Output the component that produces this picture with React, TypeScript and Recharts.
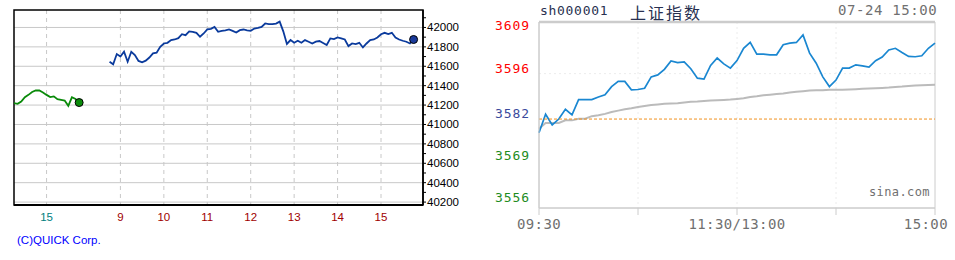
import React from "react";
import { LineChart, Line, XAxis, YAxis, CartesianGrid, ReferenceArea, ReferenceLine } from "recharts";

// 日経225先物 (QUICK) : 5分刻み
const prevDayStart = -45; // 前日 14:15 (15:00 = 0)
const prevDayValues = [
  41220, 41213, 41237, 41282, 41305, 41335, 41350, 41350, 41330, 41305,
  41282, 41290, 41261, 41254, 41247, 41192, 41280, 41262, 41226,
];
const todayStart = 87; // 当日 8:45 (9:00 = 102)
const todayValues = [
  41647, 41620, 41726, 41700, 41750, 41647, 41750, 41716, 41655, 41640,
  41658, 41690, 41733, 41740, 41801, 41835, 41842, 41870, 41876, 41890,
  41931, 41920, 41960, 41955, 41945, 41904, 41938, 41980, 41985, 42005,
  41955, 41965, 41970, 41979, 41965, 41948, 41972, 41979, 41970, 41965,
  41989, 41995, 42006, 42041, 42034, 42034, 42040, 42060, 41960, 41830,
  41870, 41842, 41863, 41842, 41870, 41853, 41835, 41853, 41860, 41840,
  41820, 41887, 41880, 41897, 41887, 41876, 41808, 41835, 41829, 41842,
  41794, 41835, 41870, 41876, 41897, 41930, 41945, 41931, 41945, 41897,
  41876, 41863, 41853, 41835, 41876,
];
const nikkeiGridTicks = [40200, 40400, 40600, 40800, 41000, 41200, 41400, 41600, 41800, 42000];
const nikkeiAllTicks = [
  40200, 40300, 40400, 40500, 40600, 40700, 40800, 40900, 41000, 41100,
  41200, 41300, 41400, 41500, 41600, 41700, 41800, 41900, 42000, 42100,
];
const hourTicks = [0, 102, 162, 222, 282, 342, 402, 462];
const hourLabels = ["15", "9", "10", "11", "12", "13", "14", "15"];

// 上证指数 : 每4分钟
const ssePrice = [
  3577.8, 3583.5, 3580.2, 3582.0, 3585.0, 3583.3, 3588.0, 3588.0, 3588.0, 3588.8,
  3589.5, 3592.0, 3593.6, 3593.6, 3591.0, 3591.1, 3591.5, 3595.0, 3595.6, 3597.3,
  3599.9, 3599.4, 3599.6, 3597.5, 3594.6, 3594.3, 3598.5, 3600.8, 3599.0, 3597.7,
  3600.0, 3603.8, 3605.6, 3602.0, 3602.0, 3601.8, 3601.8, 3604.9, 3605.4, 3605.6,
  3607.9, 3602.3, 3599.2, 3595.0, 3592.0, 3594.0, 3597.7, 3597.7, 3598.7, 3598.4,
  3598.0, 3600.0, 3601.1, 3603.3, 3603.8, 3602.5, 3601.3, 3601.2, 3601.5, 3603.8, 3605.4,
];
const sseAvg = [
  3579.0, 3580.8, 3580.8, 3580.8, 3581.6, 3581.6, 3582.1, 3582.1, 3582.9, 3583.2,
  3583.6, 3584.2, 3584.6, 3585.0, 3585.3, 3585.7, 3586.0, 3586.3, 3586.5, 3586.7,
  3586.8, 3586.9, 3587.1, 3587.3, 3587.4, 3587.6, 3587.7, 3587.8, 3587.9, 3588.0,
  3588.2, 3588.4, 3588.8, 3589.0, 3589.3, 3589.5, 3589.7, 3589.9, 3590.2, 3590.4,
  3590.6, 3590.8, 3590.9, 3590.9, 3591.0, 3591.0, 3591.0, 3591.1, 3591.2, 3591.3,
  3591.4, 3591.5, 3591.6, 3591.7, 3591.9, 3592.0, 3592.2, 3592.3, 3592.4, 3592.5, 3592.6,
];
const ssePrevClose = 3582;
const sseTicks = [3556, 3569, 3582, 3596, 3609];
const sseTimeTicks = [0, 60, 120, 180, 240];
const sseTimeLabels = ["09:30", "", "11:30/13:00", "", "15:00"];

const prevDayData = prevDayValues.map((v, i) => ({ t: prevDayStart + i * 5, v }));
const todayData = todayValues.map((v, i) => ({ t: todayStart + i * 5, v }));
const sseData = ssePrice.map((p, i) => ({ m: i * 4, price: p, avg: sseAvg[i] }));

const mono = "'DejaVu Sans Mono', monospace";

const endDot = (color: string, count: number) => (props: any) => {
  if (props.index !== count - 1) return <g key={props.index} />;
  return <circle key={props.index} cx={props.cx} cy={props.cy} r={4} fill={color} stroke="#000" strokeWidth={1} />;
};

const NikkeiYTick = (props: any) => {
  const { x, y, payload } = props;
  if (payload.value % 200 !== 0) return <g />;
  return (
    <text x={x} y={y + 4} fontSize={11.5} fontFamily="'Liberation Sans', Arial" fill="#000" textAnchor="start">
      {payload.value}
    </text>
  );
};

const HourTick = (props: any) => {
  const { x, y, index } = props;
  return (
    <text x={x} y={y + 16} fontSize={11.5} fontFamily="'Liberation Sans', Arial" fill={index === 0 ? "#008080" : "#a00000"} textAnchor="middle">
      {hourLabels[index]}
    </text>
  );
};

const SseYTick = (props: any) => {
  const { x, y, payload } = props;
  const v = payload.value;
  const color = v > ssePrevClose ? "#ff0000" : v < ssePrevClose ? "#1e8c1e" : "#3a4a9c";
  return (
    <text x={x} y={y - 1} fontSize={13} letterSpacing={0.9} fontFamily={mono} fill={color} textAnchor="end">
      {v}
    </text>
  );
};

const SseXTick = (props: any) => {
  const { x, y, index } = props;
  const label = sseTimeLabels[index];
  if (!label) return <g />;
  const last = index === sseTimeLabels.length - 1;
  return (
    <text x={last ? x + 13 : x} y={y + 14} fontSize={14} letterSpacing={0.4} fontFamily={mono} fill="#707070" textAnchor={last ? "end" : "middle"}>
      {label}
    </text>
  );
};

export default function App() {
  return (
    <div style={{ position: "absolute", left: 0, top: 0, width: 955, height: 260, background: "#fff", overflow: "hidden" }}>
      <div style={{ position: "absolute", left: 0, top: 0 }}>
        <LineChart width={470} height={260} margin={{ top: 10, right: 7, bottom: 30, left: 14 }}>
          <CartesianGrid vertical={false} stroke="#c8c8c8" horizontalValues={nikkeiGridTicks} />
          <CartesianGrid horizontal={false} stroke="#c8c8c8" strokeDasharray="4 4" verticalValues={hourTicks} />
          <XAxis
            dataKey="t"
            type="number"
            domain={[-45, 520]}
            ticks={hourTicks}
            interval={0}
            allowDataOverflow
            tickLine={false}
            tickSize={0}
            tickMargin={0}
            axisLine={{ stroke: "#000", strokeWidth: 2 }}
            height={25}
            tick={<HourTick />}
          />
          <YAxis
            orientation="right"
            type="number"
            domain={[40170, 42180]}
            ticks={nikkeiAllTicks}
            interval={0}
            allowDataOverflow
            width={40}
            tickSize={3}
            tickMargin={1}
            tickLine={{ stroke: "#000" }}
            axisLine={{ stroke: "#000", strokeWidth: 1.5 }}
            tick={<NikkeiYTick />}
          />
          <ReferenceArea x1={-45} x2={520} y1={40170} y2={42180} fill="none" stroke="#000" strokeWidth={1.5} />
          <Line data={prevDayData} dataKey="v" type="linear" stroke="#0a8a0a" strokeWidth={1.8} dot={endDot("#0a8a0a", prevDayData.length)} isAnimationActive={false} />
          <Line data={todayData} dataKey="v" type="linear" stroke="#0a3a9c" strokeWidth={1.8} dot={endDot("#1a3a9a", todayData.length)} isAnimationActive={false} />
        </LineChart>
      </div>
      <div style={{ position: "absolute", left: 17, top: 234, fontFamily: "'Liberation Sans', Arial", fontSize: 11.5, lineHeight: "13px", color: "#0000ff", whiteSpace: "nowrap" }}>
        (C)QUICK Corp.
      </div>

      <div style={{ position: "absolute", left: 490, top: 0 }}>
        <LineChart width={465} height={260} data={sseData} margin={{ top: 22, right: 20, bottom: 22, left: 0 }}>
          <CartesianGrid stroke="#ececec" strokeDasharray="2 3" horizontalValues={[3596]} verticalValues={[60, 120, 180]} />
          <XAxis
            dataKey="m"
            type="number"
            domain={[0, 240]}
            ticks={sseTimeTicks}
            interval={0}
            tickSize={7}
            tickMargin={0}
            tickLine={{ stroke: "#cccccc" }}
            axisLine={{ stroke: "#cccccc" }}
            height={30}
            tick={<SseXTick />}
          />
          <YAxis
            type="number"
            domain={[3554.6, 3611.9]}
            ticks={sseTicks}
            interval={0}
            allowDataOverflow
            width={49}
            tickLine={false}
            tickSize={0}
            tickMargin={9}
            axisLine={{ stroke: "#cccccc" }}
            tick={<SseYTick />}
          />
          <ReferenceArea x1={0} x2={240} y1={3554.6} y2={3611.9} fill="none" stroke="#cccccc" strokeWidth={1} />
          <ReferenceLine y={3611.9} stroke="#cccccc" strokeWidth={2.5} />
          <Line dataKey="avg" type="linear" stroke="#bbbbbb" strokeWidth={2} dot={false} isAnimationActive={false} />
          <Line dataKey="price" type="linear" stroke="#1a87d1" strokeWidth={1.7} dot={false} isAnimationActive={false} />
          <ReferenceLine y={ssePrevClose} stroke="#f0901e" strokeDasharray="3 2" strokeWidth={1} />
        </LineChart>
      </div>
      <div style={{ position: "absolute", left: 540, top: 4, fontFamily: mono, fontSize: 13, letterSpacing: 0.7, lineHeight: "14px", color: "#283050", whiteSpace: "nowrap" }}>
        sh000001
      </div>
      <div style={{ position: "absolute", left: 630, top: 0, fontFamily: "'Noto Sans CJK SC', sans-serif", fontSize: 16, letterSpacing: 2, lineHeight: "normal", color: "#283050", whiteSpace: "nowrap" }}>
        上证指数
      </div>
      <div style={{ position: "absolute", left: 838, top: 3, fontFamily: mono, fontSize: 14, letterSpacing: 0.6, lineHeight: "15px", color: "#707070", whiteSpace: "nowrap" }}>
        07-24 15:00
      </div>
      <div style={{ position: "absolute", left: 869, top: 186, fontFamily: mono, fontSize: 12, letterSpacing: 0.4, lineHeight: "13px", color: "#707070", whiteSpace: "nowrap" }}>
        sina.com
      </div>
    </div>
  );
}
